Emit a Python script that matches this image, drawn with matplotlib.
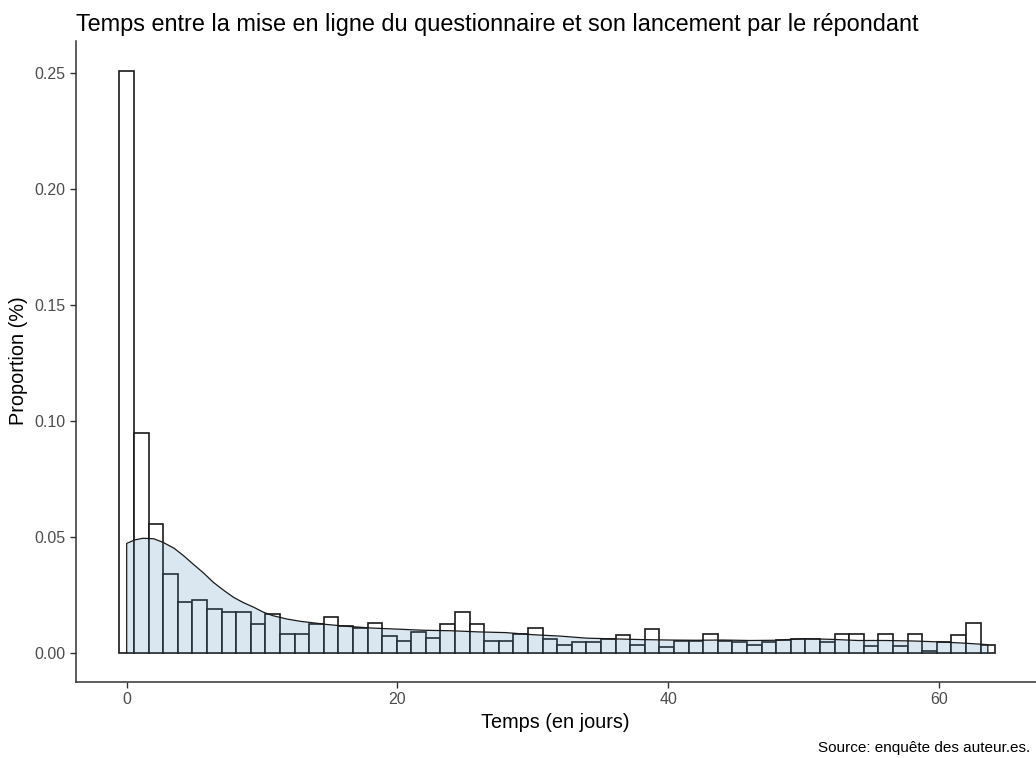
import numpy as np
import matplotlib
matplotlib.use("Agg")
import matplotlib.pyplot as plt

plt.rcParams['font.family'] = ['Liberation Sans', 'DejaVu Sans']

# Histogramme (60 classes, de 0 à ~63.6 jours)
jour_max = 63.6
nb_classes = 60
proportions = [0.251, 0.0948, 0.0553, 0.0339, 0.0220, 0.0225, 0.0190, 0.0174, 0.0174, 0.0125,
               0.0165, 0.0080, 0.0080, 0.0124, 0.0152, 0.0115, 0.0106, 0.0126, 0.0073, 0.0051,
               0.0090, 0.0062, 0.0125, 0.0175, 0.0125, 0.0050, 0.0050, 0.0079, 0.0108, 0.0059,
               0.0032, 0.0045, 0.0045, 0.0059, 0.0074, 0.0032, 0.0102, 0.0026, 0.0051, 0.0051,
               0.0080, 0.0051, 0.0045, 0.0033, 0.0046, 0.0052, 0.0057, 0.0057, 0.0047, 0.0080,
               0.0080, 0.0028, 0.0080, 0.0028, 0.0080, 0.0008, 0.0046, 0.0075, 0.0126, 0.0034]

# Courbe de densité
dens_x = [0, 0.6, 1.2, 2.0, 2.7, 3.5, 4.2, 4.9, 5.7, 6.4,
          7.2, 7.9, 8.6, 9.4, 10.1, 10.8, 11.8, 12.8, 13.8, 14.8,
          16.3, 18, 20, 22, 24, 26, 28, 30, 32, 34,
          36, 38, 40, 42, 44, 46, 48, 50, 52, 54,
          56, 58, 60, 62, 63.6]
dens_y = [0.0471, 0.0486, 0.0493, 0.0491, 0.0475, 0.0450, 0.0418, 0.0382, 0.0342, 0.0303,
          0.0267, 0.0238, 0.0216, 0.0195, 0.0174, 0.0159, 0.0145, 0.0135, 0.0128, 0.0121,
          0.0113, 0.0106, 0.0101, 0.0096, 0.0094, 0.0089, 0.0086, 0.0077, 0.0071, 0.0062,
          0.0059, 0.0056, 0.0054, 0.0053, 0.0054, 0.0052, 0.0053, 0.0060, 0.0057, 0.0052,
          0.0052, 0.0050, 0.0046, 0.0040, 0.0034]

x_ticks = [0, 20, 40, 60]
y_ticks = [0.00, 0.05, 0.10, 0.15, 0.20, 0.25]

titre = "Temps entre la mise en ligne du questionnaire et son lancement par le répondant"
source = "Source: enquête des auteur.es."

fig = plt.figure(figsize=(10.36, 7.58), dpi=100)
ax = fig.add_axes([75.5 / 1036, 1 - 681.7 / 758, 1 - 75.5 / 1036, (681.7 - 40.5) / 758])

largeur = jour_max / (nb_classes - 1)
centres = np.linspace(0, jour_max, nb_classes)
ax.bar(centres, proportions, width=largeur, color="white", edgecolor="#1a1a1a",
       linewidth=1.2, zorder=2)

ax.fill_between(dens_x, dens_y, 0, color="steelblue", alpha=0.2, linewidth=0, zorder=3)
ax.plot([dens_x[0]] + dens_x + [dens_x[-1]], [0] + dens_y + [0],
        color="#1a1a1a", linewidth=0.9, zorder=4)

ax.set_xlim(-3.78, -3.78 + (1036 - 75.5) / 13.54)
ax.set_ylim(-0.01258, 0.26408)
ax.set_xticks(x_ticks)
ax.set_yticks(y_ticks)
ax.set_yticklabels([f"{v:.2f}" for v in y_ticks])

for s in ["top", "right"]:
    ax.spines[s].set_visible(False)
for s in ["left", "bottom"]:
    ax.spines[s].set_color("#333333")
    ax.spines[s].set_linewidth(1.1)
ax.tick_params(colors="#333333", labelcolor="#4D4D4D", labelsize=11.5, length=4, width=1.0)

ax.set_xlabel("Temps (en jours)", fontsize=14.3, labelpad=4)
ax.set_ylabel("Proportion (%)", fontsize=14.3, labelpad=4)
ax.set_title(titre, fontsize=16.9, loc="left", x=0.0, pad=7)

fig.text(1030 / 1036, 1 - 748 / 758, source, ha="right", va="center", fontsize=11)

fig.savefig("out.png", dpi=100)
